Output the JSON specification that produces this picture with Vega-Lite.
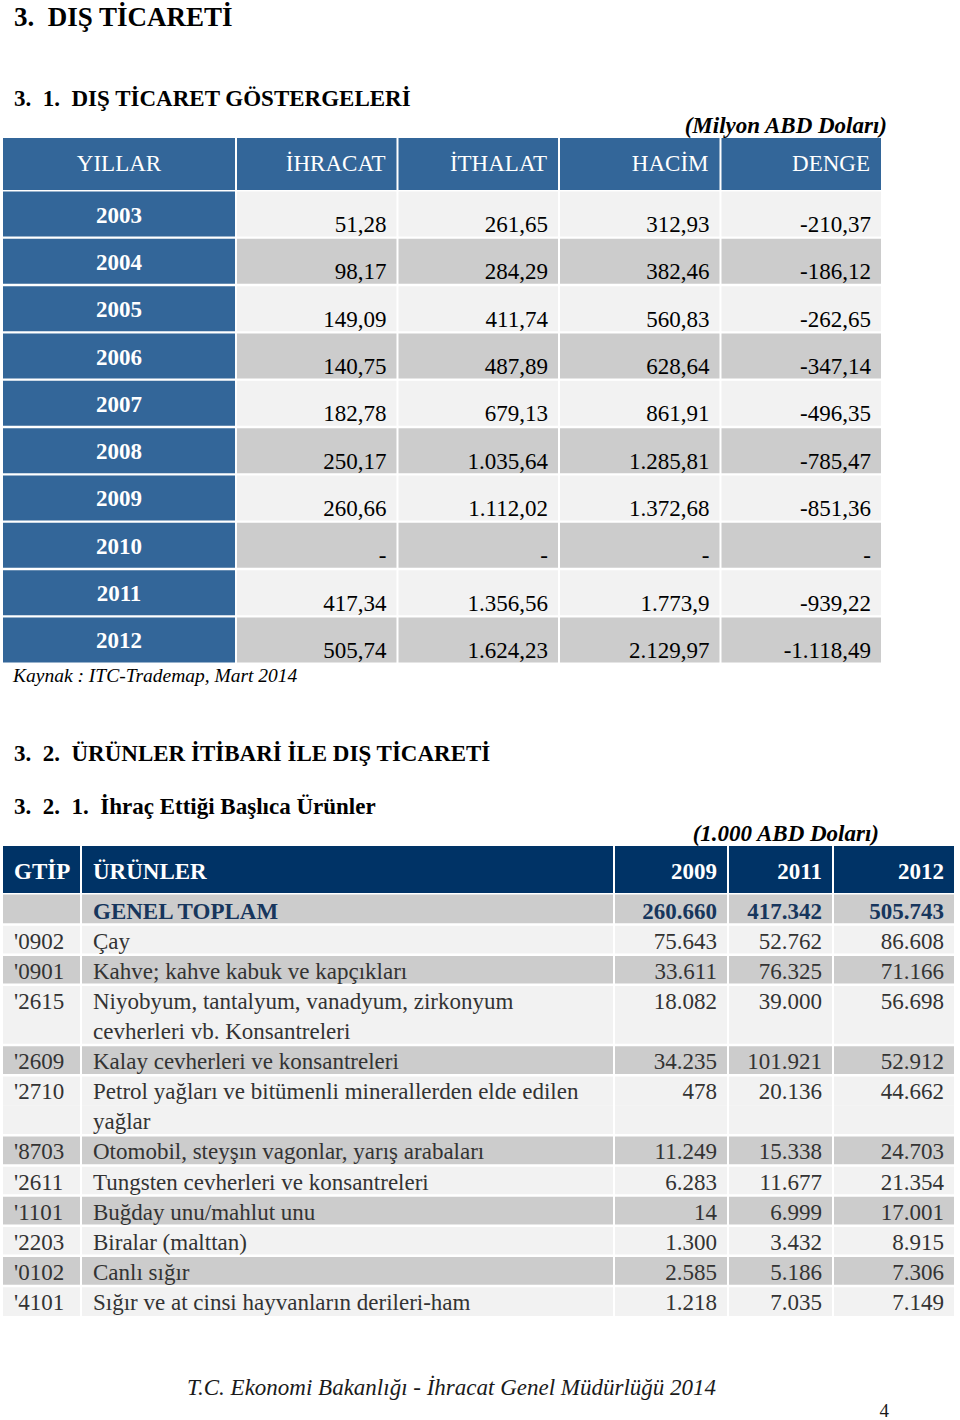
{
  "$schema": "https://vega.github.io/schema/vega-lite/v6.json",
  "padding": {"left": 3, "top": 0, "right": 0, "bottom": 0},
  "background": "white",
  "config": {"view": {"stroke": null}, "font": "Liberation Serif", "text": {"font": "Liberation Serif"}},
  "datasets": {
    "gostergeler": [
      {"yil": "2003", "ihracat": "51,28", "ithalat": "261,65", "hacim": "312,93", "denge": "-210,37"},
      {"yil": "2004", "ihracat": "98,17", "ithalat": "284,29", "hacim": "382,46", "denge": "-186,12"},
      {"yil": "2005", "ihracat": "149,09", "ithalat": "411,74", "hacim": "560,83", "denge": "-262,65"},
      {"yil": "2006", "ihracat": "140,75", "ithalat": "487,89", "hacim": "628,64", "denge": "-347,14"},
      {"yil": "2007", "ihracat": "182,78", "ithalat": "679,13", "hacim": "861,91", "denge": "-496,35"},
      {"yil": "2008", "ihracat": "250,17", "ithalat": "1.035,64", "hacim": "1.285,81", "denge": "-785,47"},
      {"yil": "2009", "ihracat": "260,66", "ithalat": "1.112,02", "hacim": "1.372,68", "denge": "-851,36"},
      {"yil": "2010", "ihracat": "-", "ithalat": "-", "hacim": "-", "denge": "-"},
      {"yil": "2011", "ihracat": "417,34", "ithalat": "1.356,56", "hacim": "1.773,9", "denge": "-939,22"},
      {"yil": "2012", "ihracat": "505,74", "ithalat": "1.624,23", "hacim": "2.129,97", "denge": "-1.118,49"}
    ],
    "urunler": [
      {"gtip": "", "satirlar": ["GENEL TOPLAM"], "y2009": "260.660", "y2011": "417.342", "y2012": "505.743"},
      {"gtip": "'0902", "satirlar": ["Çay"], "y2009": "75.643", "y2011": "52.762", "y2012": "86.608"},
      {"gtip": "'0901", "satirlar": ["Kahve; kahve kabuk ve kapçıkları"], "y2009": "33.611", "y2011": "76.325", "y2012": "71.166"},
      {"gtip": "'2615", "satirlar": ["Niyobyum, tantalyum, vanadyum, zirkonyum", "cevherleri vb. Konsantreleri"], "y2009": "18.082", "y2011": "39.000", "y2012": "56.698"},
      {"gtip": "'2609", "satirlar": ["Kalay cevherleri ve konsantreleri"], "y2009": "34.235", "y2011": "101.921", "y2012": "52.912"},
      {"gtip": "'2710", "satirlar": ["Petrol yağları ve bitümenli minerallerden elde edilen", "yağlar"], "y2009": "478", "y2011": "20.136", "y2012": "44.662"},
      {"gtip": "'8703", "satirlar": ["Otomobil, steyşın vagonlar, yarış arabaları"], "y2009": "11.249", "y2011": "15.338", "y2012": "24.703"},
      {"gtip": "'2611", "satirlar": ["Tungsten cevherleri ve konsantreleri"], "y2009": "6.283", "y2011": "11.677", "y2012": "21.354"},
      {"gtip": "'1101", "satirlar": ["Buğday unu/mahlut unu"], "y2009": "14", "y2011": "6.999", "y2012": "17.001"},
      {"gtip": "'2203", "satirlar": ["Biralar (malttan)"], "y2009": "1.300", "y2011": "3.432", "y2012": "8.915"},
      {"gtip": "'0102", "satirlar": ["Canlı sığır"], "y2009": "2.585", "y2011": "5.186", "y2012": "7.306"},
      {"gtip": "'4101", "satirlar": ["Sığır ve at cinsi hayvanların derileri-ham"], "y2009": "1.218", "y2011": "7.035", "y2012": "7.149"}
    ]
  },
  "spacing": 0,
  "vconcat": [
    {
      "width": 900, "height": 32,
      "data": {"values": [{"t": "3.\u00a0\u00a0DIŞ TİCARETİ"}]},
      "mark": {"type": "text", "fontSize": 27, "fontWeight": "bold", "align": "left", "baseline": "bottom", "dx": 11, "color": "#000000"},
      "encoding": {
        "x": {"field": "t", "type": "nominal", "bandPosition": 0, "scale": {"type": "band", "paddingInner": 0, "paddingOuter": 0}, "axis": null},
        "y": {"field": "t", "type": "nominal", "bandPosition": 1, "scale": {"type": "band", "paddingInner": 0, "paddingOuter": 0}, "axis": null},
        "text": {"field": "t", "type": "nominal"}
      }
    },
    {
      "width": 900, "height": 79,
      "data": {"values": [{"t": "3.\u00a0\u00a01.\u00a0\u00a0DIŞ TİCARET GÖSTERGELERİ"}]},
      "mark": {"type": "text", "fontSize": 23, "fontWeight": "bold", "align": "left", "baseline": "bottom", "dx": 11, "color": "#000000"},
      "encoding": {
        "x": {"field": "t", "type": "nominal", "bandPosition": 0, "scale": {"type": "band", "paddingInner": 0, "paddingOuter": 0}, "axis": null},
        "y": {"field": "t", "type": "nominal", "bandPosition": 1, "scale": {"type": "band", "paddingInner": 0, "paddingOuter": 0}, "axis": null},
        "text": {"field": "t", "type": "nominal"}
      }
    },
    {
      "width": 884, "height": 27,
      "data": {"values": [{"t": "(Milyon ABD Doları)"}]},
      "mark": {"type": "text", "fontSize": 23, "fontWeight": "bold", "fontStyle": "italic", "align": "right", "baseline": "bottom", "color": "#000000"},
      "encoding": {
        "x": {"field": "t", "type": "nominal", "bandPosition": 1, "scale": {"type": "band", "paddingInner": 0, "paddingOuter": 0}, "axis": null},
        "y": {"field": "t", "type": "nominal", "bandPosition": 1, "scale": {"type": "band", "paddingInner": 0, "paddingOuter": 0}, "axis": null},
        "text": {"field": "t", "type": "nominal"}
      }
    },
    {
      "spacing": 1.5,
      "vconcat": [
        {
          "spacing": 2,
          "hconcat": [
            {
              "width": 232, "height": 52,
              "data": {"values": [{"baslik": "YILLAR"}]},
              "layer": [
                {"mark": {"type": "rect", "color": "#336699"},
                 "encoding": {"x": {"field": "baslik", "type": "nominal", "scale": {"type": "band", "paddingInner": 0, "paddingOuter": 0}, "axis": null}}},
                {"mark": {"type": "text", "color": "#ffffff", "fontSize": 23, "align": "center", "baseline": "middle"},
                 "encoding": {"x": {"field": "baslik", "type": "nominal", "scale": {"type": "band", "paddingInner": 0, "paddingOuter": 0}, "axis": null},
                              "text": {"field": "baslik", "type": "nominal"}}}
              ]
            },
            {
              "width": 644, "height": 52,
              "data": {"values": [{"baslik": "İHRACAT"}, {"baslik": "İTHALAT"}, {"baslik": "HACİM"}, {"baslik": "DENGE"}]},
              "layer": [
                {"mark": {"type": "rect", "color": "#336699"},
                 "encoding": {"x": {"field": "baslik", "type": "nominal", "sort": null, "scale": {"type": "band", "paddingInner": 0.0124, "paddingOuter": 0}, "axis": null}}},
                {"mark": {"type": "text", "color": "#ffffff", "fontSize": 23, "align": "right", "baseline": "middle", "dx": -11},
                 "encoding": {"x": {"field": "baslik", "type": "nominal", "sort": null, "bandPosition": 1, "scale": {"type": "band", "paddingInner": 0.0124, "paddingOuter": 0}, "axis": null},
                              "text": {"field": "baslik", "type": "nominal"}}}
              ]
            }
          ]
        },
        {
          "spacing": 2,
          "data": {"name": "gostergeler"},
          "hconcat": [
            {
              "width": 232, "height": 471,
              "layer": [
                {"mark": {"type": "rect", "color": "#336699"},
                 "encoding": {"y": {"field": "yil", "type": "nominal", "scale": {"type": "band", "paddingInner": 0.0486, "paddingOuter": 0}, "axis": null}}},
                {"mark": {"type": "text", "color": "#ffffff", "fontSize": 23, "fontWeight": "bold", "align": "center", "baseline": "alphabetic", "dy": 8.5},
                 "encoding": {"y": {"field": "yil", "type": "nominal", "bandPosition": 0.5, "scale": {"type": "band", "paddingInner": 0.0486, "paddingOuter": 0}, "axis": null},
                              "text": {"field": "yil", "type": "nominal"}}}
              ]
            },
            {
              "width": 644, "height": 471,
              "transform": [{"fold": ["ihracat", "ithalat", "hacim", "denge"], "as": ["sutun", "deger"]}],
              "layer": [
                {"mark": {"type": "rect"},
                 "encoding": {
                   "x": {"field": "sutun", "type": "nominal", "sort": null, "scale": {"type": "band", "paddingInner": 0.0124, "paddingOuter": 0}, "axis": null},
                   "y": {"field": "yil", "type": "nominal", "scale": {"type": "band", "paddingInner": 0.0486, "paddingOuter": 0}, "axis": null},
                   "color": {"field": "yil", "type": "nominal", "scale": {"domain": ["2003", "2004", "2005", "2006", "2007", "2008", "2009", "2010", "2011", "2012"], "range": ["#f2f2f2", "#cccccc"]}, "legend": null}
                 }},
                {"mark": {"type": "text", "color": "#000000", "fontSize": 23, "align": "right", "baseline": "alphabetic", "dx": -10, "dy": -4.5},
                 "encoding": {
                   "x": {"field": "sutun", "type": "nominal", "sort": null, "bandPosition": 1, "scale": {"type": "band", "paddingInner": 0.0124, "paddingOuter": 0}, "axis": null},
                   "y": {"field": "yil", "type": "nominal", "bandPosition": 1, "scale": {"type": "band", "paddingInner": 0.0486, "paddingOuter": 0}, "axis": null},
                   "text": {"field": "deger", "type": "nominal"}
                 }}
              ]
            }
          ]
        }
      ]
    },
    {
      "width": 900, "height": 22.5,
      "data": {"values": [{"t": "Kaynak : ITC-Trademap, Mart 2014"}]},
      "mark": {"type": "text", "fontSize": 19.5, "fontStyle": "italic", "align": "left", "baseline": "bottom", "dx": 10, "color": "#000000"},
      "encoding": {
        "x": {"field": "t", "type": "nominal", "bandPosition": 0, "scale": {"type": "band", "paddingInner": 0, "paddingOuter": 0}, "axis": null},
        "y": {"field": "t", "type": "nominal", "bandPosition": 1, "scale": {"type": "band", "paddingInner": 0, "paddingOuter": 0}, "axis": null},
        "text": {"field": "t", "type": "nominal"}
      }
    },
    {
      "width": 900, "height": 80,
      "data": {"values": [{"t": "3.\u00a0\u00a02.\u00a0\u00a0ÜRÜNLER İTİBARİ İLE DIŞ TİCARETİ"}]},
      "mark": {"type": "text", "fontSize": 23, "fontWeight": "bold", "align": "left", "baseline": "bottom", "dx": 11, "color": "#000000"},
      "encoding": {
        "x": {"field": "t", "type": "nominal", "bandPosition": 0, "scale": {"type": "band", "paddingInner": 0, "paddingOuter": 0}, "axis": null},
        "y": {"field": "t", "type": "nominal", "bandPosition": 1, "scale": {"type": "band", "paddingInner": 0, "paddingOuter": 0}, "axis": null},
        "text": {"field": "t", "type": "nominal"}
      }
    },
    {
      "width": 900, "height": 53,
      "data": {"values": [{"t": "3.\u00a0\u00a02.\u00a0\u00a01.\u00a0\u00a0İhraç Ettiği Başlıca Ürünler"}]},
      "mark": {"type": "text", "fontSize": 23, "fontWeight": "bold", "align": "left", "baseline": "bottom", "dx": 11, "color": "#000000"},
      "encoding": {
        "x": {"field": "t", "type": "nominal", "bandPosition": 0, "scale": {"type": "band", "paddingInner": 0, "paddingOuter": 0}, "axis": null},
        "y": {"field": "t", "type": "nominal", "bandPosition": 1, "scale": {"type": "band", "paddingInner": 0, "paddingOuter": 0}, "axis": null},
        "text": {"field": "t", "type": "nominal"}
      }
    },
    {
      "width": 876, "height": 27,
      "data": {"values": [{"t": "(1.000 ABD Doları)"}]},
      "mark": {"type": "text", "fontSize": 23, "fontWeight": "bold", "fontStyle": "italic", "align": "right", "baseline": "bottom", "color": "#000000"},
      "encoding": {
        "x": {"field": "t", "type": "nominal", "bandPosition": 1, "scale": {"type": "band", "paddingInner": 0, "paddingOuter": 0}, "axis": null},
        "y": {"field": "t", "type": "nominal", "bandPosition": 1, "scale": {"type": "band", "paddingInner": 0, "paddingOuter": 0}, "axis": null},
        "text": {"field": "t", "type": "nominal"}
      }
    },
    {
      "spacing": 1.5,
      "vconcat": [
        {
          "spacing": 2,
          "hconcat": [
            {
              "width": 77, "height": 47,
              "data": {"values": [{"baslik": "GTİP"}]},
              "layer": [
                {"mark": {"type": "rect", "color": "#003366"},
                 "encoding": {"x": {"field": "baslik", "type": "nominal", "scale": {"type": "band", "paddingInner": 0, "paddingOuter": 0}, "axis": null}}},
                {"mark": {"type": "text", "color": "#ffffff", "fontSize": 23, "fontWeight": "bold", "align": "left", "baseline": "alphabetic", "dx": 11, "dy": 9},
                 "encoding": {"x": {"field": "baslik", "type": "nominal", "bandPosition": 0, "scale": {"type": "band", "paddingInner": 0, "paddingOuter": 0}, "axis": null},
                              "text": {"field": "baslik", "type": "nominal"}}}
              ]
            },
            {
              "width": 531, "height": 47,
              "data": {"values": [{"baslik": "ÜRÜNLER"}]},
              "layer": [
                {"mark": {"type": "rect", "color": "#003366"},
                 "encoding": {"x": {"field": "baslik", "type": "nominal", "scale": {"type": "band", "paddingInner": 0, "paddingOuter": 0}, "axis": null}}},
                {"mark": {"type": "text", "color": "#ffffff", "fontSize": 23, "fontWeight": "bold", "align": "left", "baseline": "alphabetic", "dx": 11, "dy": 9},
                 "encoding": {"x": {"field": "baslik", "type": "nominal", "bandPosition": 0, "scale": {"type": "band", "paddingInner": 0, "paddingOuter": 0}, "axis": null},
                              "text": {"field": "baslik", "type": "nominal"}}}
              ]
            },
            {
              "width": 112, "height": 47,
              "data": {"values": [{"baslik": "2009"}]},
              "layer": [
                {"mark": {"type": "rect", "color": "#003366"},
                 "encoding": {"x": {"field": "baslik", "type": "nominal", "scale": {"type": "band", "paddingInner": 0, "paddingOuter": 0}, "axis": null}}},
                {"mark": {"type": "text", "color": "#ffffff", "fontSize": 23, "fontWeight": "bold", "align": "right", "baseline": "alphabetic", "dx": -10, "dy": 9},
                 "encoding": {"x": {"field": "baslik", "type": "nominal", "bandPosition": 1, "scale": {"type": "band", "paddingInner": 0, "paddingOuter": 0}, "axis": null},
                              "text": {"field": "baslik", "type": "nominal"}}}
              ]
            },
            {
              "width": 103, "height": 47,
              "data": {"values": [{"baslik": "2011"}]},
              "layer": [
                {"mark": {"type": "rect", "color": "#003366"},
                 "encoding": {"x": {"field": "baslik", "type": "nominal", "scale": {"type": "band", "paddingInner": 0, "paddingOuter": 0}, "axis": null}}},
                {"mark": {"type": "text", "color": "#ffffff", "fontSize": 23, "fontWeight": "bold", "align": "right", "baseline": "alphabetic", "dx": -10, "dy": 9},
                 "encoding": {"x": {"field": "baslik", "type": "nominal", "bandPosition": 1, "scale": {"type": "band", "paddingInner": 0, "paddingOuter": 0}, "axis": null},
                              "text": {"field": "baslik", "type": "nominal"}}}
              ]
            },
            {
              "width": 120, "height": 47,
              "data": {"values": [{"baslik": "2012"}]},
              "layer": [
                {"mark": {"type": "rect", "color": "#003366"},
                 "encoding": {"x": {"field": "baslik", "type": "nominal", "scale": {"type": "band", "paddingInner": 0, "paddingOuter": 0}, "axis": null}}},
                {"mark": {"type": "text", "color": "#ffffff", "fontSize": 23, "fontWeight": "bold", "align": "right", "baseline": "alphabetic", "dx": -10, "dy": 9},
                 "encoding": {"x": {"field": "baslik", "type": "nominal", "bandPosition": 1, "scale": {"type": "band", "paddingInner": 0, "paddingOuter": 0}, "axis": null},
                              "text": {"field": "baslik", "type": "nominal"}}}
              ]
            }
          ]
        },
        {
          "spacing": 2,
          "data": {"name": "urunler"},
          "transform": [{"flatten": ["satirlar"], "as": ["satir"]}],
          "hconcat": [
            {
              "width": 77, "height": 421.5,
              "layer": [
                {"mark": {"type": "rect"},
                 "encoding": {
                   "y": {"field": "satir", "type": "nominal", "sort": null, "scale": {"type": "band", "paddingInner": 0, "paddingOuter": 0}, "axis": null},
                   "color": {"condition": {"test": "datum.gtip == ''", "value": "#cccccc"}, "field": "gtip", "type": "nominal", "scale": {"domain": ["'0902", "'0901", "'2615", "'2609", "'2710", "'8703", "'2611", "'1101", "'2203", "'0102", "'4101"], "range": ["#f2f2f2", "#cccccc"]}, "legend": null}
                 }},
                {"mark": {"type": "rule", "color": "#ffffff", "strokeWidth": 2.5, "clip": true},
                 "encoding": {
                   "y": {"field": "satir", "type": "nominal", "sort": null, "bandPosition": 0, "scale": {"type": "band", "paddingInner": 0, "paddingOuter": 0}, "axis": null},
                   "opacity": {"condition": {"test": "datum.satir == datum.satirlar[0] && datum.gtip != ''", "value": 1}, "value": 0}
                 }},
                {"mark": {"type": "text", "color": "#333333", "fontSize": 23, "align": "left", "baseline": "alphabetic", "dx": 11},
                 "encoding": {
                   "x": {"datum": "GTİP", "type": "nominal", "bandPosition": 0, "scale": {"type": "band", "paddingInner": 0, "paddingOuter": 0}, "axis": null},
                   "y": {"field": "satir", "type": "nominal", "sort": null, "bandPosition": 0.8, "scale": {"type": "band", "paddingInner": 0, "paddingOuter": 0}, "axis": null},
                   "text": {"condition": {"test": "datum.satir == datum.satirlar[0]", "field": "gtip", "type": "nominal"}, "value": ""}
                 }}
              ]
            },
            {
              "width": 531, "height": 421.5,
              "layer": [
                {"mark": {"type": "rect"},
                 "encoding": {
                   "y": {"field": "satir", "type": "nominal", "sort": null, "scale": {"type": "band", "paddingInner": 0, "paddingOuter": 0}, "axis": null},
                   "color": {"condition": {"test": "datum.gtip == ''", "value": "#cccccc"}, "field": "gtip", "type": "nominal", "scale": {"domain": ["'0902", "'0901", "'2615", "'2609", "'2710", "'8703", "'2611", "'1101", "'2203", "'0102", "'4101"], "range": ["#f2f2f2", "#cccccc"]}, "legend": null}
                 }},
                {"mark": {"type": "rule", "color": "#ffffff", "strokeWidth": 2.5, "clip": true},
                 "encoding": {
                   "y": {"field": "satir", "type": "nominal", "sort": null, "bandPosition": 0, "scale": {"type": "band", "paddingInner": 0, "paddingOuter": 0}, "axis": null},
                   "opacity": {"condition": {"test": "datum.satir == datum.satirlar[0] && datum.gtip != ''", "value": 1}, "value": 0}
                 }},
                {"mark": {"type": "text", "color": "#333333", "fontSize": 23, "align": "left", "baseline": "alphabetic", "dx": 11},
                 "encoding": {
                   "x": {"datum": "ÜRÜNLER", "type": "nominal", "bandPosition": 0, "scale": {"type": "band", "paddingInner": 0, "paddingOuter": 0}, "axis": null},
                   "y": {"field": "satir", "type": "nominal", "sort": null, "bandPosition": 0.8, "scale": {"type": "band", "paddingInner": 0, "paddingOuter": 0}, "axis": null},
                   "text": {"condition": {"test": "datum.gtip != ''", "field": "satir", "type": "nominal"}, "value": ""}
                 }},
                {"mark": {"type": "text", "color": "#17365d", "fontSize": 23, "fontWeight": "bold", "align": "left", "baseline": "alphabetic", "dx": 11},
                 "encoding": {
                   "x": {"datum": "ÜRÜNLER", "type": "nominal", "bandPosition": 0, "scale": {"type": "band", "paddingInner": 0, "paddingOuter": 0}, "axis": null},
                   "y": {"field": "satir", "type": "nominal", "sort": null, "bandPosition": 0.8, "scale": {"type": "band", "paddingInner": 0, "paddingOuter": 0}, "axis": null},
                   "text": {"condition": {"test": "datum.gtip == ''", "field": "satir", "type": "nominal"}, "value": ""}
                 }}
              ]
            },
            {
              "width": 112, "height": 421.5,
              "layer": [
                {"mark": {"type": "rect"},
                 "encoding": {
                   "y": {"field": "satir", "type": "nominal", "sort": null, "scale": {"type": "band", "paddingInner": 0, "paddingOuter": 0}, "axis": null},
                   "color": {"condition": {"test": "datum.gtip == ''", "value": "#cccccc"}, "field": "gtip", "type": "nominal", "scale": {"domain": ["'0902", "'0901", "'2615", "'2609", "'2710", "'8703", "'2611", "'1101", "'2203", "'0102", "'4101"], "range": ["#f2f2f2", "#cccccc"]}, "legend": null}
                 }},
                {"mark": {"type": "rule", "color": "#ffffff", "strokeWidth": 2.5, "clip": true},
                 "encoding": {
                   "y": {"field": "satir", "type": "nominal", "sort": null, "bandPosition": 0, "scale": {"type": "band", "paddingInner": 0, "paddingOuter": 0}, "axis": null},
                   "opacity": {"condition": {"test": "datum.satir == datum.satirlar[0] && datum.gtip != ''", "value": 1}, "value": 0}
                 }},
                {"mark": {"type": "text", "color": "#333333", "fontSize": 23, "align": "right", "baseline": "alphabetic", "dx": -10},
                 "encoding": {
                   "x": {"datum": "2009", "type": "nominal", "bandPosition": 1, "scale": {"type": "band", "paddingInner": 0, "paddingOuter": 0}, "axis": null},
                   "y": {"field": "satir", "type": "nominal", "sort": null, "bandPosition": 0.8, "scale": {"type": "band", "paddingInner": 0, "paddingOuter": 0}, "axis": null},
                   "text": {"condition": {"test": "datum.gtip != '' && datum.satir == datum.satirlar[0]", "field": "y2009", "type": "nominal"}, "value": ""}
                 }},
                {"mark": {"type": "text", "color": "#17365d", "fontSize": 23, "fontWeight": "bold", "align": "right", "baseline": "alphabetic", "dx": -10},
                 "encoding": {
                   "x": {"datum": "2009", "type": "nominal", "bandPosition": 1, "scale": {"type": "band", "paddingInner": 0, "paddingOuter": 0}, "axis": null},
                   "y": {"field": "satir", "type": "nominal", "sort": null, "bandPosition": 0.8, "scale": {"type": "band", "paddingInner": 0, "paddingOuter": 0}, "axis": null},
                   "text": {"condition": {"test": "datum.gtip == ''", "field": "y2009", "type": "nominal"}, "value": ""}
                 }}
              ]
            },
            {
              "width": 103, "height": 421.5,
              "layer": [
                {"mark": {"type": "rect"},
                 "encoding": {
                   "y": {"field": "satir", "type": "nominal", "sort": null, "scale": {"type": "band", "paddingInner": 0, "paddingOuter": 0}, "axis": null},
                   "color": {"condition": {"test": "datum.gtip == ''", "value": "#cccccc"}, "field": "gtip", "type": "nominal", "scale": {"domain": ["'0902", "'0901", "'2615", "'2609", "'2710", "'8703", "'2611", "'1101", "'2203", "'0102", "'4101"], "range": ["#f2f2f2", "#cccccc"]}, "legend": null}
                 }},
                {"mark": {"type": "rule", "color": "#ffffff", "strokeWidth": 2.5, "clip": true},
                 "encoding": {
                   "y": {"field": "satir", "type": "nominal", "sort": null, "bandPosition": 0, "scale": {"type": "band", "paddingInner": 0, "paddingOuter": 0}, "axis": null},
                   "opacity": {"condition": {"test": "datum.satir == datum.satirlar[0] && datum.gtip != ''", "value": 1}, "value": 0}
                 }},
                {"mark": {"type": "text", "color": "#333333", "fontSize": 23, "align": "right", "baseline": "alphabetic", "dx": -10},
                 "encoding": {
                   "x": {"datum": "2011", "type": "nominal", "bandPosition": 1, "scale": {"type": "band", "paddingInner": 0, "paddingOuter": 0}, "axis": null},
                   "y": {"field": "satir", "type": "nominal", "sort": null, "bandPosition": 0.8, "scale": {"type": "band", "paddingInner": 0, "paddingOuter": 0}, "axis": null},
                   "text": {"condition": {"test": "datum.gtip != '' && datum.satir == datum.satirlar[0]", "field": "y2011", "type": "nominal"}, "value": ""}
                 }},
                {"mark": {"type": "text", "color": "#17365d", "fontSize": 23, "fontWeight": "bold", "align": "right", "baseline": "alphabetic", "dx": -10},
                 "encoding": {
                   "x": {"datum": "2011", "type": "nominal", "bandPosition": 1, "scale": {"type": "band", "paddingInner": 0, "paddingOuter": 0}, "axis": null},
                   "y": {"field": "satir", "type": "nominal", "sort": null, "bandPosition": 0.8, "scale": {"type": "band", "paddingInner": 0, "paddingOuter": 0}, "axis": null},
                   "text": {"condition": {"test": "datum.gtip == ''", "field": "y2011", "type": "nominal"}, "value": ""}
                 }}
              ]
            },
            {
              "width": 120, "height": 421.5,
              "layer": [
                {"mark": {"type": "rect"},
                 "encoding": {
                   "y": {"field": "satir", "type": "nominal", "sort": null, "scale": {"type": "band", "paddingInner": 0, "paddingOuter": 0}, "axis": null},
                   "color": {"condition": {"test": "datum.gtip == ''", "value": "#cccccc"}, "field": "gtip", "type": "nominal", "scale": {"domain": ["'0902", "'0901", "'2615", "'2609", "'2710", "'8703", "'2611", "'1101", "'2203", "'0102", "'4101"], "range": ["#f2f2f2", "#cccccc"]}, "legend": null}
                 }},
                {"mark": {"type": "rule", "color": "#ffffff", "strokeWidth": 2.5, "clip": true},
                 "encoding": {
                   "y": {"field": "satir", "type": "nominal", "sort": null, "bandPosition": 0, "scale": {"type": "band", "paddingInner": 0, "paddingOuter": 0}, "axis": null},
                   "opacity": {"condition": {"test": "datum.satir == datum.satirlar[0] && datum.gtip != ''", "value": 1}, "value": 0}
                 }},
                {"mark": {"type": "text", "color": "#333333", "fontSize": 23, "align": "right", "baseline": "alphabetic", "dx": -10},
                 "encoding": {
                   "x": {"datum": "2012", "type": "nominal", "bandPosition": 1, "scale": {"type": "band", "paddingInner": 0, "paddingOuter": 0}, "axis": null},
                   "y": {"field": "satir", "type": "nominal", "sort": null, "bandPosition": 0.8, "scale": {"type": "band", "paddingInner": 0, "paddingOuter": 0}, "axis": null},
                   "text": {"condition": {"test": "datum.gtip != '' && datum.satir == datum.satirlar[0]", "field": "y2012", "type": "nominal"}, "value": ""}
                 }},
                {"mark": {"type": "text", "color": "#17365d", "fontSize": 23, "fontWeight": "bold", "align": "right", "baseline": "alphabetic", "dx": -10},
                 "encoding": {
                   "x": {"datum": "2012", "type": "nominal", "bandPosition": 1, "scale": {"type": "band", "paddingInner": 0, "paddingOuter": 0}, "axis": null},
                   "y": {"field": "satir", "type": "nominal", "sort": null, "bandPosition": 0.8, "scale": {"type": "band", "paddingInner": 0, "paddingOuter": 0}, "axis": null},
                   "text": {"condition": {"test": "datum.gtip == ''", "field": "y2012", "type": "nominal"}, "value": ""}
                 }}
              ]
            }
          ]
        }
      ]
    },
    {
      "width": 897, "height": 84,
      "data": {"values": [{"t": "T.C. Ekonomi Bakanlığı - İhracat Genel Müdürlüğü 2014"}]},
      "mark": {"type": "text", "fontSize": 23, "fontStyle": "italic", "align": "center", "baseline": "bottom", "color": "#1a1a1a"},
      "encoding": {
        "y": {"field": "t", "type": "nominal", "bandPosition": 1, "scale": {"type": "band", "paddingInner": 0, "paddingOuter": 0}, "axis": null},
        "text": {"field": "t", "type": "nominal"}
      }
    },
    {
      "width": 886, "height": 21,
      "data": {"values": [{"t": "4"}]},
      "mark": {"type": "text", "fontSize": 19, "align": "right", "baseline": "bottom", "color": "#1a1a1a"},
      "encoding": {
        "x": {"field": "t", "type": "nominal", "bandPosition": 1, "scale": {"type": "band", "paddingInner": 0, "paddingOuter": 0}, "axis": null},
        "y": {"field": "t", "type": "nominal", "bandPosition": 1, "scale": {"type": "band", "paddingInner": 0, "paddingOuter": 0}, "axis": null},
        "text": {"field": "t", "type": "nominal"}
      }
    }
  ]
}
